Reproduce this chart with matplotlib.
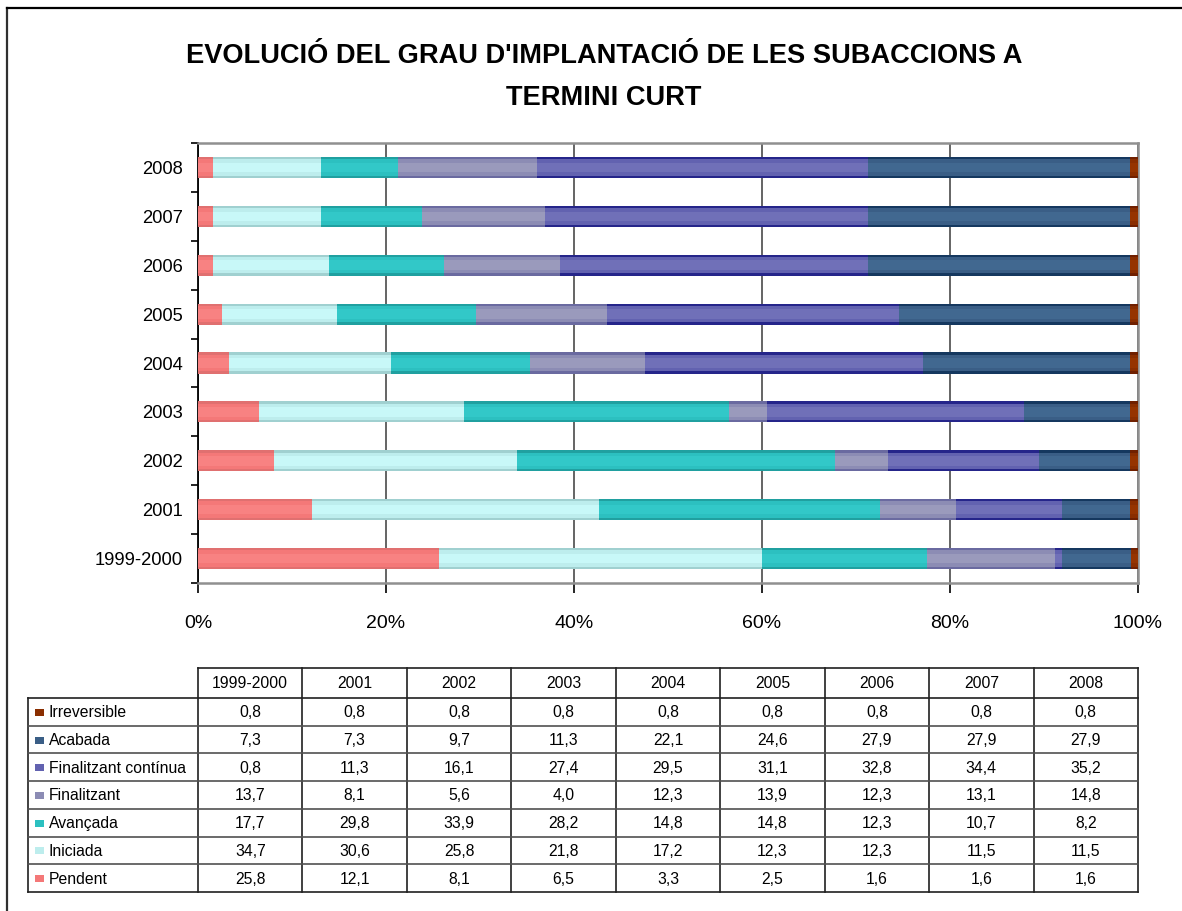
import numpy as np
import matplotlib
matplotlib.use("Agg")
import matplotlib.pyplot as plt
from matplotlib.patches import Rectangle
from matplotlib.ticker import FixedLocator, PercentFormatter

plt.rcParams['font.family'] = ['Liberation Sans', 'DejaVu Sans']

# ---------------- data ----------------
periods = ['1999-2000', '2001', '2002', '2003', '2004', '2005', '2006', '2007', '2008']
series_names = ['Pendent', 'Iniciada', 'Avançada', 'Finalitzant',
                'Finalitzant contínua', 'Acabada', 'Irreversible']
pendent = [25.8, 12.1, 8.1, 6.5, 3.3, 2.5, 1.6, 1.6, 1.6]
iniciada = [34.7, 30.6, 25.8, 21.8, 17.2, 12.3, 12.3, 11.5, 11.5]
avancada = [17.7, 29.8, 33.9, 28.2, 14.8, 14.8, 12.3, 10.7, 8.2]
finalitzant = [13.7, 8.1, 5.6, 4.0, 12.3, 13.9, 12.3, 13.1, 14.8]
fin_continua = [0.8, 11.3, 16.1, 27.4, 29.5, 31.1, 32.8, 34.4, 35.2]
acabada = [7.3, 7.3, 9.7, 11.3, 22.1, 24.6, 27.9, 27.9, 27.9]
irreversible = [0.8, 0.8, 0.8, 0.8, 0.8, 0.8, 0.8, 0.8, 0.8]
series_values = [pendent, iniciada, avancada, finalitzant, fin_continua, acabada, irreversible]

title = "EVOLUCIÓ DEL GRAU D'IMPLANTACIÓ DE LES SUBACCIONS A\nTERMINI CURT"

# colours: (edge/dark, main, centre/light)
colors = [
    ('#E07070', '#F47878', '#F88282'),
    ('#A0D0D0', '#BDEDED', '#C8F8F8'),
    ('#20A0A0', '#2CC0C0', '#32C8C8'),
    ('#6A6AA0', '#8C8CB4', '#9A9ABC'),
    ('#25258A', '#6262B0', '#7070B8'),
    ('#15385F', '#3A5E86', '#416890'),
    ('#702000', '#8A2E00', '#963400'),
]

# ---------------- figure ----------------
W, H = 1182, 911
fig = plt.figure(figsize=(W / 100, H / 100), dpi=100)
fig.patch.set_facecolor('white')

ax_l, ax_r, ax_t, ax_b = 198, 1138, 143, 583
ax = fig.add_axes([ax_l / W, 1 - ax_b / H, (ax_r - ax_l) / W, (ax_b - ax_t) / H])

vals = np.array(series_values, dtype=float)
totals = vals.sum(axis=0)
pct = vals / totals * 100
y = np.arange(len(periods))
bh = 0.43

left = np.zeros(len(periods))
for i, name in enumerate(series_names):
    dark, main, light = colors[i]
    ax.barh(y, pct[i], left=left, height=bh, color=dark, linewidth=0, zorder=3)
    ax.barh(y, pct[i], left=left, height=bh * 0.78, color=main, linewidth=0, zorder=3)
    ax.barh(y, pct[i], left=left, height=bh * 0.45, color=light, linewidth=0, zorder=3)
    left += pct[i]

ax.set_xlim(0, 100)
ax.set_ylim(-0.5, len(periods) - 0.5)
ax.xaxis.set_major_locator(FixedLocator([0, 20, 40, 60, 80, 100]))
ax.xaxis.set_major_formatter(PercentFormatter(decimals=0))
ax.grid(axis='x', color='#3a3a3a', linewidth=1.1, zorder=1)
ax.set_yticks(y)
ax.set_yticklabels(periods, fontsize=13.2)
ax.yaxis.set_minor_locator(FixedLocator(np.arange(-0.5, len(periods), 1.0)))
ax.tick_params(axis='y', which='major', length=0, pad=11)
ax.tick_params(axis='y', which='minor', length=5, width=1.2, color='black')
ax.tick_params(axis='x', which='major', length=7, width=1.2, pad=16, labelsize=14, color='black')

for s in ['top', 'right', 'bottom']:
    ax.spines[s].set_color('#909090')
    ax.spines[s].set_linewidth(1.8)
ax.spines['left'].set_color('black')
ax.spines['left'].set_linewidth(1.3)

# ---------------- overlay (title, border, data table) ----------------
ov = fig.add_axes([0, 0, 1, 1], zorder=-1)
ov.set_xlim(0, W)
ov.set_ylim(H, 0)
ov.axis('off')

# outer border (left and top visible)
ov.plot([7, 7], [H + 5, 8], color='#303030', lw=1.6)
ov.plot([7, W + 5], [8, 8], color='black', lw=1.6)

ov.text(604, 77, title, ha='center', va='center', fontsize=19.6,
        fontweight='bold', linespacing=1.8)

# data table
t_left, lab_right, t_right = 28, 198, 1138
head_top, rows_top, t_bottom = 668, 698, 892
ncol = len(periods)
cw = (t_right - lab_right) / ncol
nrow = len(series_names)
rh = (t_bottom - rows_top) / nrow
lc = '#202020'

ov.plot([lab_right, t_right], [head_top, head_top], color=lc, lw=1.2)
for j in range(ncol + 1):
    xx = lab_right + j * cw
    ov.plot([xx, xx], [head_top, t_bottom], color=lc, lw=1.2)
ov.plot([t_left, t_left], [rows_top, t_bottom], color=lc, lw=1.2)
for r in range(nrow + 1):
    yy = rows_top + r * rh
    ov.plot([t_left, t_right], [yy, yy], color=lc if r in (0, nrow) else '#505050', lw=1.2)

for j, p in enumerate(periods):
    ov.text(lab_right + (j + 0.5) * cw, (head_top + rows_top) / 2 + 1, p,
            ha='center', va='center', fontsize=11.3)

row_order = list(range(nrow))[::-1]  # Irreversible first
for r, si in enumerate(row_order):
    yc = rows_top + (r + 0.5) * rh + 1
    dark, main, light = colors[si]
    ov.add_patch(Rectangle((35, yc - 4), 8.5, 7, facecolor=main, edgecolor='none'))
    ov.text(49, yc, series_names[si], ha='left', va='center', fontsize=11.3)
    for j in range(ncol):
        s = f"{series_values[si][j]:.1f}".replace('.', ',')
        ov.text(lab_right + (j + 0.5) * cw, yc, s, ha='center', va='center', fontsize=11.3)

fig.savefig('out.png', dpi=100, facecolor='white')
